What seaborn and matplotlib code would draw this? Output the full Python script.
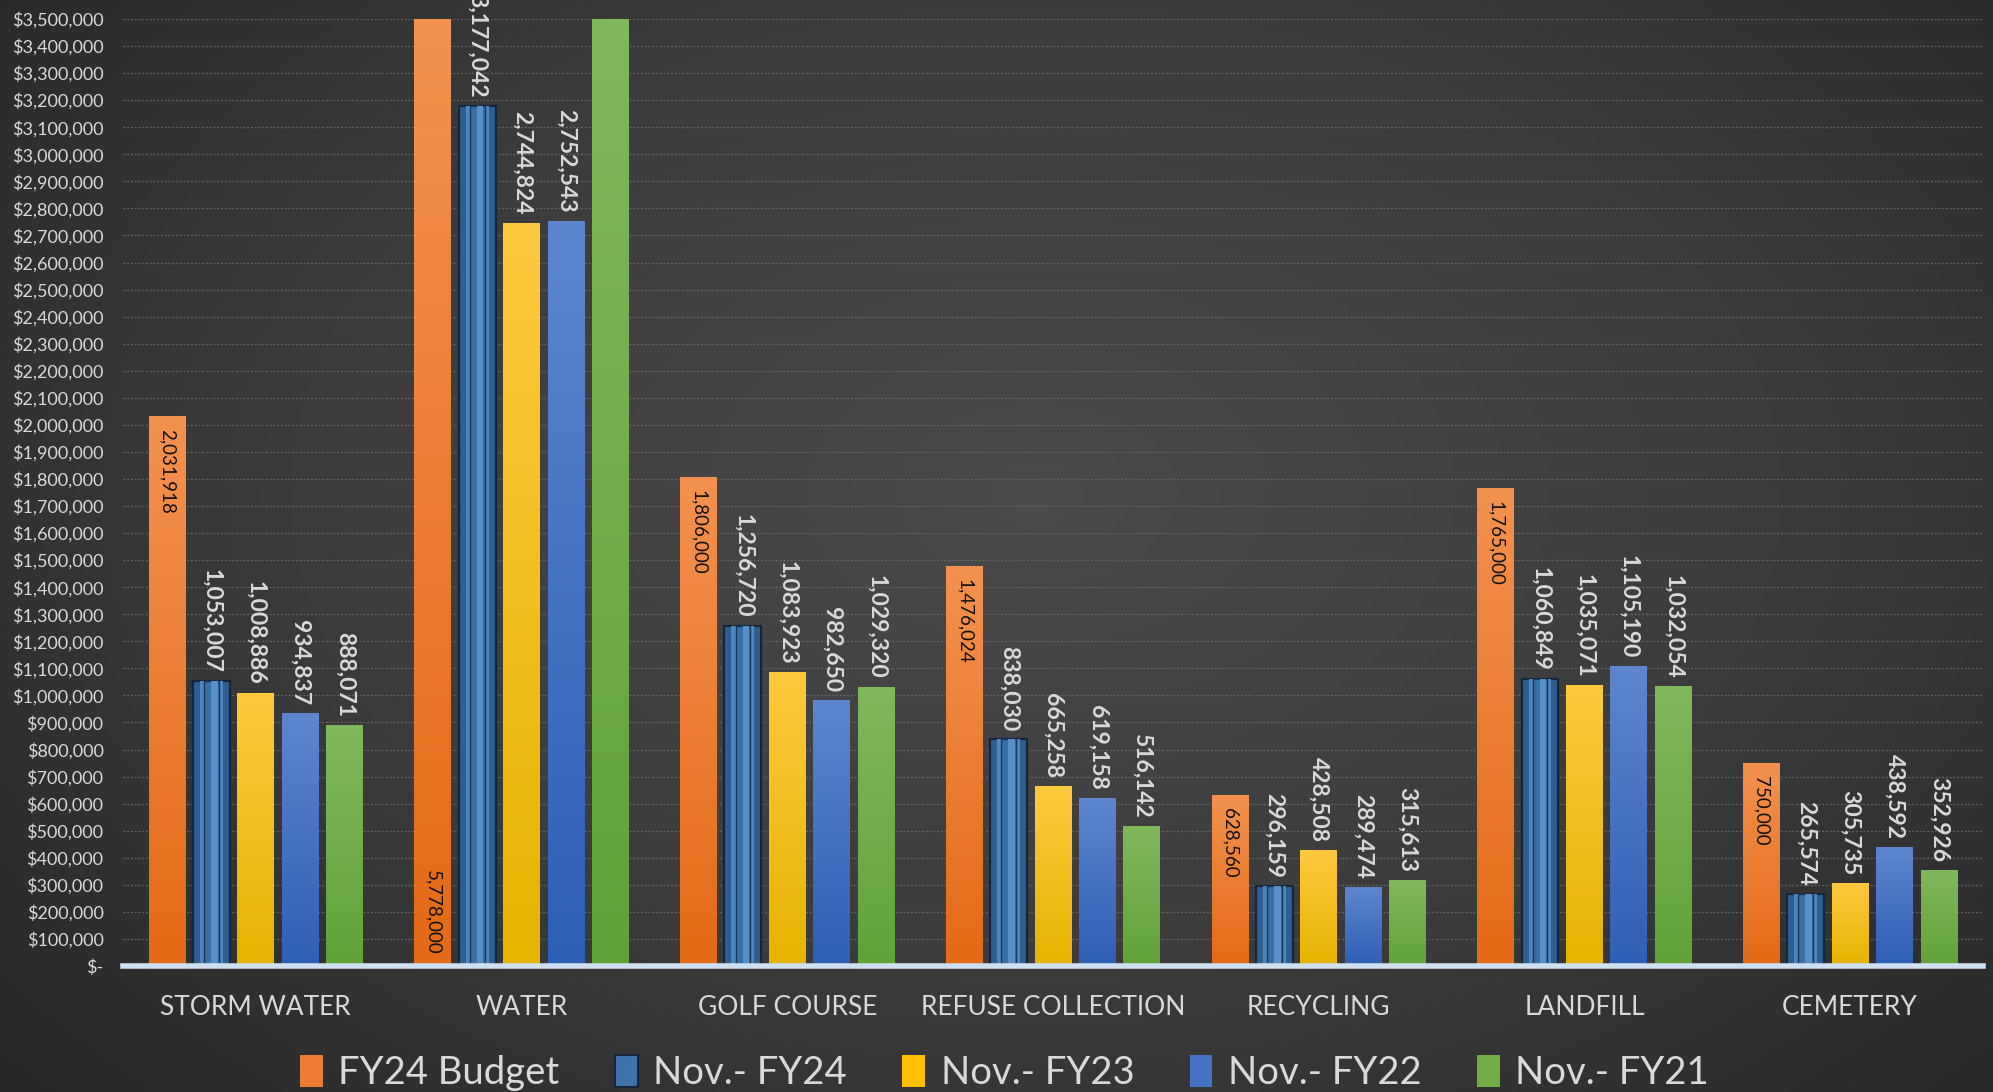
import numpy as np
import pandas as pd
import matplotlib
matplotlib.use("Agg")
import matplotlib.pyplot as plt
import seaborn as sns
from matplotlib.colors import LinearSegmentedColormap
from matplotlib.patches import Patch

categories = ["STORM WATER", "WATER", "GOLF COURSE", "REFUSE COLLECTION",
              "RECYCLING", "LANDFILL", "CEMETERY"]
series = ["FY24 Budget", "Nov.- FY24", "Nov.- FY23", "Nov.- FY22", "Nov.- FY21"]
fy24_budget = [2031918, 5778000, 1806000, 1476024, 628560, 1765000, 750000]
nov_fy24 = [1053007, 3177042, 1256720, 838030, 296159, 1060849, 265574]
nov_fy23 = [1008886, 2744824, 1083923, 665258, 428508, 1035071, 305735]
nov_fy22 = [934837, 2752543, 982650, 619158, 289474, 1105190, 438592]
nov_fy21 = [888071, 3900000, 1029320, 516142, 315613, 1032054, 352926]  # WATER value clipped/unlabelled: estimate
y_ticks = list(range(0, 3500001, 100000))

values = [fy24_budget, nov_fy24, nov_fy23, nov_fy22, nov_fy21]
rows = []
for s, vals in zip(series, values):
    for c, v in zip(categories, vals):
        rows.append({"category": c, "series": s, "value": v})
df = pd.DataFrame(rows)

YMAX = 3500000
grad_colors = {
    "FY24 Budget": ("#F4914F", "#E36A16"),
    "Nov.- FY24": ("#4A80B8", "#2E5C8D"),
    "Nov.- FY23": ("#FFC93F", "#E6B300"),
    "Nov.- FY22": ("#5E86CF", "#2F5EB6"),
    "Nov.- FY21": ("#80B85C", "#60A238"),
}
base_colors = {"FY24 Budget": "#ED7D31", "Nov.- FY24": "#3F74AA",
               "Nov.- FY23": "#FFC000", "Nov.- FY22": "#4472C4",
               "Nov.- FY21": "#70AD47"}

sns.set_theme(style="white")
plt.rcParams["font.family"] = ["Lato", "DejaVu Sans"]

W, H = 1993, 1092
fig = plt.figure(figsize=(W / 100, H / 100), dpi=100)

# radial dark background
bg = fig.add_axes([0, 0, 1, 1], zorder=-10)
yy, xx = np.mgrid[0:H:4, 0:W:4]
r = np.sqrt(((xx - 0.52 * W) / (0.75 * W)) ** 2 + ((yy - 0.45 * H) / (0.9 * H)) ** 2)
r = np.clip(r, 0, 1)
bgcmap = LinearSegmentedColormap.from_list("bg", ["#4b4b4b", "#3b3b3b", "#232323"])
bg.imshow(r, cmap=bgcmap, aspect="auto", extent=[0, 1, 0, 1], vmin=0, vmax=1)
bg.set_axis_off()

ax = fig.add_axes([0.0617, 0.1154, 0.9333, 0.8672])
ax.set_facecolor("none")

sns.barplot(data=df, x="category", y="value", hue="series", order=categories,
            hue_order=series, palette=base_colors, width=0.835, gap=0.17,
            ax=ax, legend=False, saturation=1, errorbar=None)

for s, cont in zip(series, ax.containers):
    top_c, bot_c = grad_colors[s]
    cmap = LinearSegmentedColormap.from_list(s, [bot_c, top_c])
    for p in cont.patches:
        x0, w, h = p.get_x(), p.get_width(), p.get_height()
        hv = min(h, YMAX)
        if s == "Nov.- FY24":
            # beveled pillar look: dark frame, lighter body, darker inner groove
            p.set_facecolor("#2F5E90")
            p.set_edgecolor("#15263b")
            p.set_linewidth(1.6)
            p.set_zorder(2)
            ax.bar(x0 + w * 0.5, hv, width=w * 0.62, bottom=0, color="#4F86BF",
                   linewidth=0, zorder=2.4)
            ax.bar(x0 + w * 0.5, hv, width=w * 0.40, bottom=0, color="#3A6FA5",
                   edgecolor="#1c3655", linewidth=1.0, zorder=2.5)
            ax.bar(x0 + w * 0.58, hv, width=w * 0.18, bottom=0, color="#5790C9",
                   linewidth=0, zorder=2.6)
        else:
            grad = np.linspace(0, 1, 256).reshape(-1, 1)
            ax.imshow(grad, cmap=cmap, origin="lower", aspect="auto",
                      extent=[x0, x0 + w, 0, hv], zorder=2)
            p.set_facecolor("none")
            p.set_edgecolor("none")

ax.set_xlim(-0.5, len(categories) - 0.5)
ax.set_ylim(0, YMAX)

# data labels
for s, cont in zip(series, ax.containers):
    for p in cont.patches:
        v = p.get_height()
        xc = p.get_x() + p.get_width() / 2
        txt = f"{int(round(v)):,}"
        if s == "FY24 Budget":
            if v > YMAX:
                ax.annotate(txt, (xc, 0), xytext=(0, 8), textcoords="offset points",
                            rotation=270, ha="center", va="bottom",
                            fontsize=13.5, color="#111111", zorder=5)
            else:
                ax.annotate(txt, (xc, v), xytext=(0, -9), textcoords="offset points",
                            rotation=270, ha="center", va="top",
                            fontsize=13.5, color="#111111", zorder=5)
        else:
            if v > YMAX:
                continue
            ax.annotate(txt, (xc, v), xytext=(0, 6), textcoords="offset points",
                        rotation=270, ha="center", va="bottom",
                        fontsize=16.5, fontweight="bold", color="#d9d9d9",
                        zorder=5, annotation_clip=False)

# axes styling
ax.set_yticks(y_ticks)
ax.set_yticklabels(["$-" if t == 0 else f"${t:,}" for t in y_ticks])
ax.tick_params(axis="y", length=0, pad=14, labelsize=13, labelcolor="#d9d9d9")
ax.tick_params(axis="x", length=0, pad=21, labelsize=19, labelcolor="#d9d9d9")
ax.set_xlabel("")
ax.set_ylabel("")
ax.grid(axis="y", color="#646464", linestyle=(0, (1.5, 1.5)), linewidth=0.9, zorder=0)
ax.set_axisbelow(True)
for side in ["top", "right", "left"]:
    ax.spines[side].set_visible(False)
ax.spines["bottom"].set_color("#cfe0f1")
ax.spines["bottom"].set_linewidth(4)
ax.spines["bottom"].set_zorder(6)

handles = [Patch(facecolor=base_colors[s], edgecolor=("#15263b" if s == "Nov.- FY24" else "none"),
                 linewidth=1.5) for s in series]
leg = fig.legend(handles, series, loc="center", bbox_to_anchor=(0.504, 0.017),
                 ncol=5, frameon=False, fontsize=27.5, handlelength=0.6,
                 handleheight=0.9, handletextpad=0.4, columnspacing=1.45)
for t in leg.get_texts():
    t.set_color("#d9d9d9")

fig.savefig("out.png", dpi=100)
